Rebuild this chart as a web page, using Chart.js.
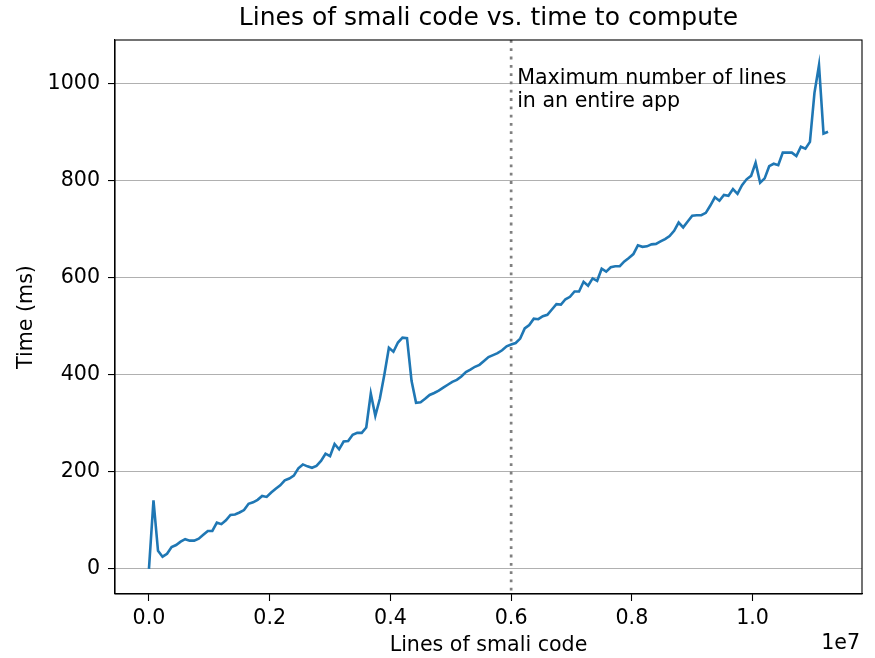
<!DOCTYPE html>
<html>
<head>
<meta charset="utf-8">
<script src="https://cdn.jsdelivr.net/npm/chart.js@4.4.1/dist/chart.umd.min.js"></script>
<style>
  html, body { margin: 0; padding: 0; background: #fff; }
  #wrap { width: 875px; height: 658px; }
</style>
</head>
<body>
<div id="wrap"><canvas id="chart" width="875" height="658"></canvas></div>
<script>
// lines of smali code (x)
var linesOfCode = [
  0,75000,150000,225000,300000,375000,450000,525000,600000,675000,
  750000,825000,900000,975000,1050000,1125000,1200000,1275000,1350000,1425000,
  1500000,1575000,1650000,1725000,1800000,1875000,1950000,2025000,2100000,2175000,
  2250000,2325000,2400000,2475000,2550000,2625000,2700000,2775000,2850000,2925000,
  3000000,3075000,3150000,3225000,3300000,3375000,3450000,3525000,3600000,3675000,
  3750000,3825000,3900000,3975000,4050000,4125000,4200000,4275000,4350000,4425000,
  4500000,4575000,4650000,4725000,4800000,4875000,4950000,5025000,5100000,5175000,
  5250000,5325000,5400000,5475000,5550000,5625000,5700000,5775000,5850000,5925000,
  6000000,6075000,6150000,6225000,6300000,6375000,6450000,6525000,6600000,6675000,
  6750000,6825000,6900000,6975000,7050000,7125000,7200000,7275000,7350000,7425000,
  7500000,7575000,7650000,7725000,7800000,7875000,7950000,8025000,8100000,8175000,
  8250000,8325000,8400000,8475000,8550000,8625000,8700000,8775000,8850000,8925000,
  9000000,9075000,9150000,9225000,9300000,9375000,9450000,9525000,9600000,9675000,
  9750000,9825000,9900000,9975000,10050000,10125000,10200000,10275000,10350000,10425000,
  10500000,10575000,10650000,10725000,10800000,10875000,10950000,11025000,11100000,11175000,
  11250000
];
// time to compute in ms (y)
var timeMs = [
  0,141,37,25,31,45,49,56,61,58,
  58,62,70,78,78,95,92,100,111,112,
  116,121,134,137,142,150,148,157,165,172,
  182,186,192,207,215,211,208,212,222,237,
  232,257,246,262,263,276,280,280,291,361,
  315,350,400,455,447,466,476,475,387,342,
  343,350,358,362,367,373,379,385,389,396,
  405,410,416,420,428,436,440,444,450,458,
  462,465,474,495,502,515,514,520,523,534,
  545,544,555,560,571,571,591,583,598,593,
  618,612,621,623,623,633,640,648,666,663,
  664,668,669,674,679,685,696,713,703,715,
  727,728,728,733,748,765,758,770,768,782,
  772,790,802,809,836,795,804,829,834,831,
  857,857,857,850,869,865,879,980,1037,896,
  900
];
var xTicks = [0, 2000000, 4000000, 6000000, 8000000, 10000000];
var yTicks = [0, 200, 400, 600, 800, 1000];
var maxAppLines = 6000000;
var noteLines = ['Maximum number of lines', 'in an entire app'];

var FONT = '"DejaVu Sans", sans-serif';
var FS = 20.6;

var points = linesOfCode.map(function(x, i){ return {x: x, y: timeMs[i]}; });

var extras = {
  id: 'extras',
  afterDatasetsDraw: function(chart) {
    var c = chart.ctx, a = chart.chartArea;
    var xs = chart.scales.x, ys = chart.scales.y;
    c.save();
    // dotted vertical line
    var vx = xs.getPixelForValue(maxAppLines);
    c.strokeStyle = '#808080';
    c.lineWidth = 2.7;
    c.setLineDash([2.8, 5.5]);
    c.beginPath();
    c.moveTo(vx, a.top);
    c.lineTo(vx, a.bottom);
    c.stroke();
    c.setLineDash([]);
    // annotation
    c.fillStyle = '#000';
    c.font = FS + 'px ' + FONT;
    c.textAlign = 'left';
    c.textBaseline = 'alphabetic';
    c.fillText(noteLines[0], vx + 6, ys.getPixelForValue(1000) + 1);
    c.fillText(noteLines[1], vx + 6, ys.getPixelForValue(1000) + 23.5);
    // frame
    c.strokeStyle = '#000';
    c.lineWidth = 1.1;
    c.strokeRect(a.left, a.top, a.right - a.left, a.bottom - a.top);
    c.restore();
  },
  afterDraw: function(chart) {
    var c = chart.ctx, a = chart.chartArea;
    var mid = (a.left + a.right) / 2;
    c.save();
    c.fillStyle = '#000';
    c.textAlign = 'center';
    c.textBaseline = 'middle';
    c.font = '25px ' + FONT;
    c.fillText('Lines of smali code vs. time to compute', mid, 18);
    c.font = FS + 'px ' + FONT;
    c.fillText('Lines of smali code', mid, 646);
    c.textAlign = 'right';
    c.fillText('1e7', 860, 644);
    c.translate(27, (a.top + a.bottom) / 2);
    c.rotate(-Math.PI / 2);
    c.textAlign = 'center';
    c.fillText('Time (ms)', 0, 0);
    c.restore();
  }
};

var ctx = document.getElementById('chart').getContext('2d');
window.timeChart = new Chart(ctx, {
  type: 'scatter',
  data: {
    datasets: [{
      data: points,
      showLine: true,
      borderColor: '#1f77b4',
      backgroundColor: '#1f77b4',
      borderWidth: 2.6,
      pointRadius: 0,
      tension: 0,
      fill: false
    }]
  },
  options: {
    responsive: false,
    animation: false,
    layout: { padding: { top: 40, right: 13, left: 0, bottom: 0 } },
    plugins: {
      legend: { display: false },
      title: { display: false },
      tooltip: { enabled: false }
    },
    scales: {
      x: {
        type: 'linear',
        min: -562500,
        max: 11812500,
        afterFit: function(s){ s.height = 64; },
        afterBuildTicks: function(s){ s.ticks = xTicks.map(function(v){ return {value: v}; }); },
        grid: { drawOnChartArea: false, drawTicks: true, tickLength: 7, tickColor: '#000', tickWidth: 1.1 },
        border: { display: true, color: '#000', width: 1.1 },
        ticks: {
          color: '#000',
          font: { family: FONT, size: FS },
          padding: 5,
          maxRotation: 0,
          callback: function(v){ return (v / 1e7).toFixed(1); }
        }
      },
      y: {
        type: 'linear',
        min: -51.85,
        max: 1088.85,
        afterFit: function(s){ s.width = 115; },
        afterBuildTicks: function(s){ s.ticks = yTicks.map(function(v){ return {value: v}; }); },
        grid: { color: '#b0b0b0', lineWidth: 1.1, drawTicks: true, tickLength: 7, tickColor: '#000', tickWidth: 1.1 },
        border: { display: true, color: '#000', width: 1.1 },
        ticks: {
          color: '#000',
          font: { family: FONT, size: FS },
          padding: 8,
          callback: function(v){ return String(v); }
        }
      }
    }
  },
  plugins: [extras]
});
</script>
</body>
</html>
